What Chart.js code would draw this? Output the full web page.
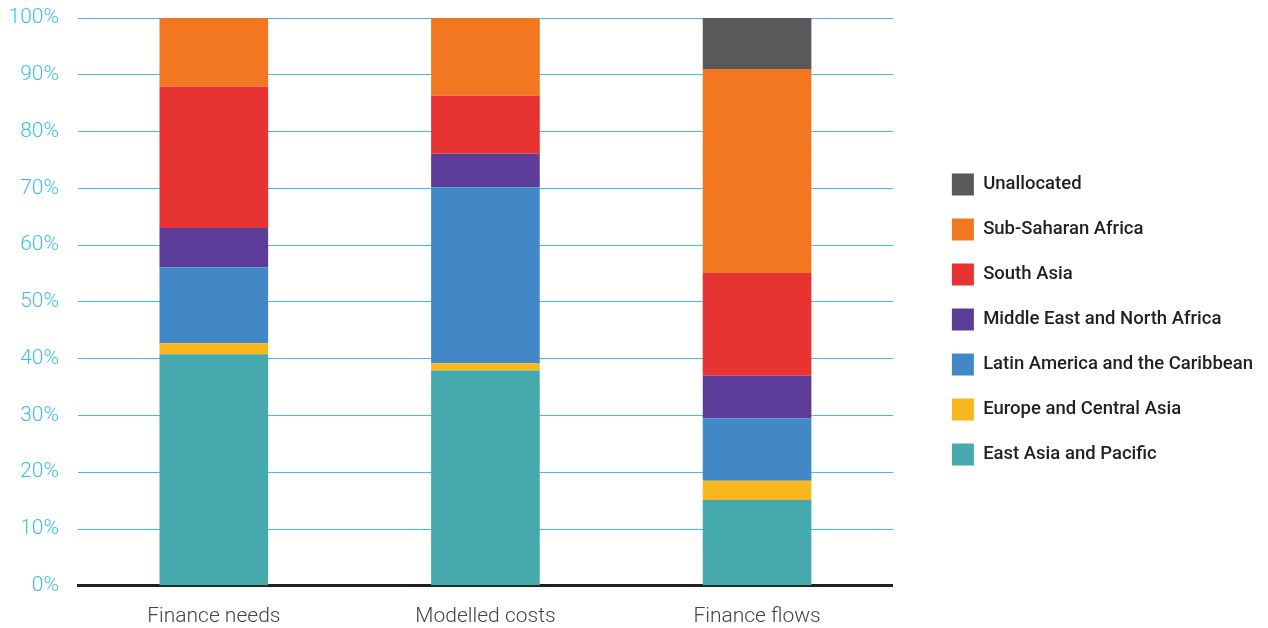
<!DOCTYPE html>
<html lang="en">
<head>
  <meta charset="UTF-8">
  <title>Finance needs, modelled costs and finance flows by region</title>
  <style>
    body { margin: 0; background: #fff; }
    .wrap { width: 1268px; height: 628px; }
  </style>
  <script src="https://cdn.jsdelivr.net/npm/chart.js@4/dist/chart.umd.min.js"></script>
</head>
<body>
  <div class="wrap"><canvas id="myChart" width="1268" height="628"></canvas></div>
  <script>
    // categories
    const categories = ['Finance needs', 'Modelled costs', 'Finance flows'];
    const yTicks = [0, 10, 20, 30, 40, 50, 60, 70, 80, 90, 100];

    // share of each region, in %
    const eastAsia      = [40.8, 37.9, 15.1];
    const europe        = [1.9, 1.3, 3.4];
    const latinAmerica  = [13.4, 31.0, 11.0];
    const middleEast    = [6.9, 5.9, 7.5];
    const southAsia     = [24.9, 10.2, 18.1];
    const subSaharan    = [12.1, 13.7, 35.9];
    const unallocated   = [0, 0, 9.0];

    const seriesNames  = ['East Asia and Pacific', 'Europe and Central Asia', 'Latin America and the Caribbean',
                          'Middle East and North Africa', 'South Asia', 'Sub-Saharan Africa', 'Unallocated'];
    const seriesValues = [eastAsia, europe, latinAmerica, middleEast, southAsia, subSaharan, unallocated];
    const seriesColors = ['#45a9ae', '#f8b71d', '#4288c6', '#5c3c98', '#e73332', '#f37621', '#58595b'];

    const ctx = document.getElementById('myChart').getContext('2d');
    const myChart = new Chart(ctx, {
      type: 'bar',
      data: {
        labels: categories,
        datasets: seriesNames.map((name, i) => ({
          label: name,
          data: seriesValues[i],
          backgroundColor: seriesColors[i],
          borderWidth: 0,
          categoryPercentage: 0.4,
          barPercentage: 1
        }))
      },
      options: {
        responsive: false,
        animation: false,
        layout: { padding: { top: 0, left: 8, right: 5, bottom: -11 } },
        plugins: {
          tooltip: { enabled: false },
          legend: {
            position: 'right',
            reverse: true,
            maxWidth: 400,
            labels: {
              boxWidth: 22,
              boxHeight: 22,
              padding: 23,
              color: '#231f20',
              font: { family: 'Roboto', size: 18.5, weight: 500 }
            }
          }
        },
        scales: {
          x: {
            stacked: true,
            grid: { display: false },
            border: { color: '#231f20', width: 3 },
            ticks: {
              color: '#444',
              padding: 10,
              font: { family: 'Roboto', size: 21, weight: 300 }
            }
          },
          y: {
            stacked: true,
            min: 0,
            max: 100,
            afterBuildTicks: axis => { axis.ticks = yTicks.map(v => ({ value: v })); },
            afterFit: axis => {
              axis.width = 70;
              axis.paddingTop = 18;
              axis.paddingBottom = 12;
            },
            grid: { color: '#3dbdee', lineWidth: 1, drawTicks: false },
            border: { display: false },
            ticks: {
              color: '#3dbdee',
              padding: 19,
              font: { family: 'Roboto', size: 21, weight: 300 },
              callback: v => v + '%'
            }
          },
          // empty axis: keeps a gap between the plot and the legend
          gap: {
            position: 'right',
            display: true,
            afterFit: axis => { axis.width = 36; },
            grid: { display: false },
            border: { display: false },
            ticks: { display: false }
          }
        }
      }
    });
  </script>
</body>
</html>
